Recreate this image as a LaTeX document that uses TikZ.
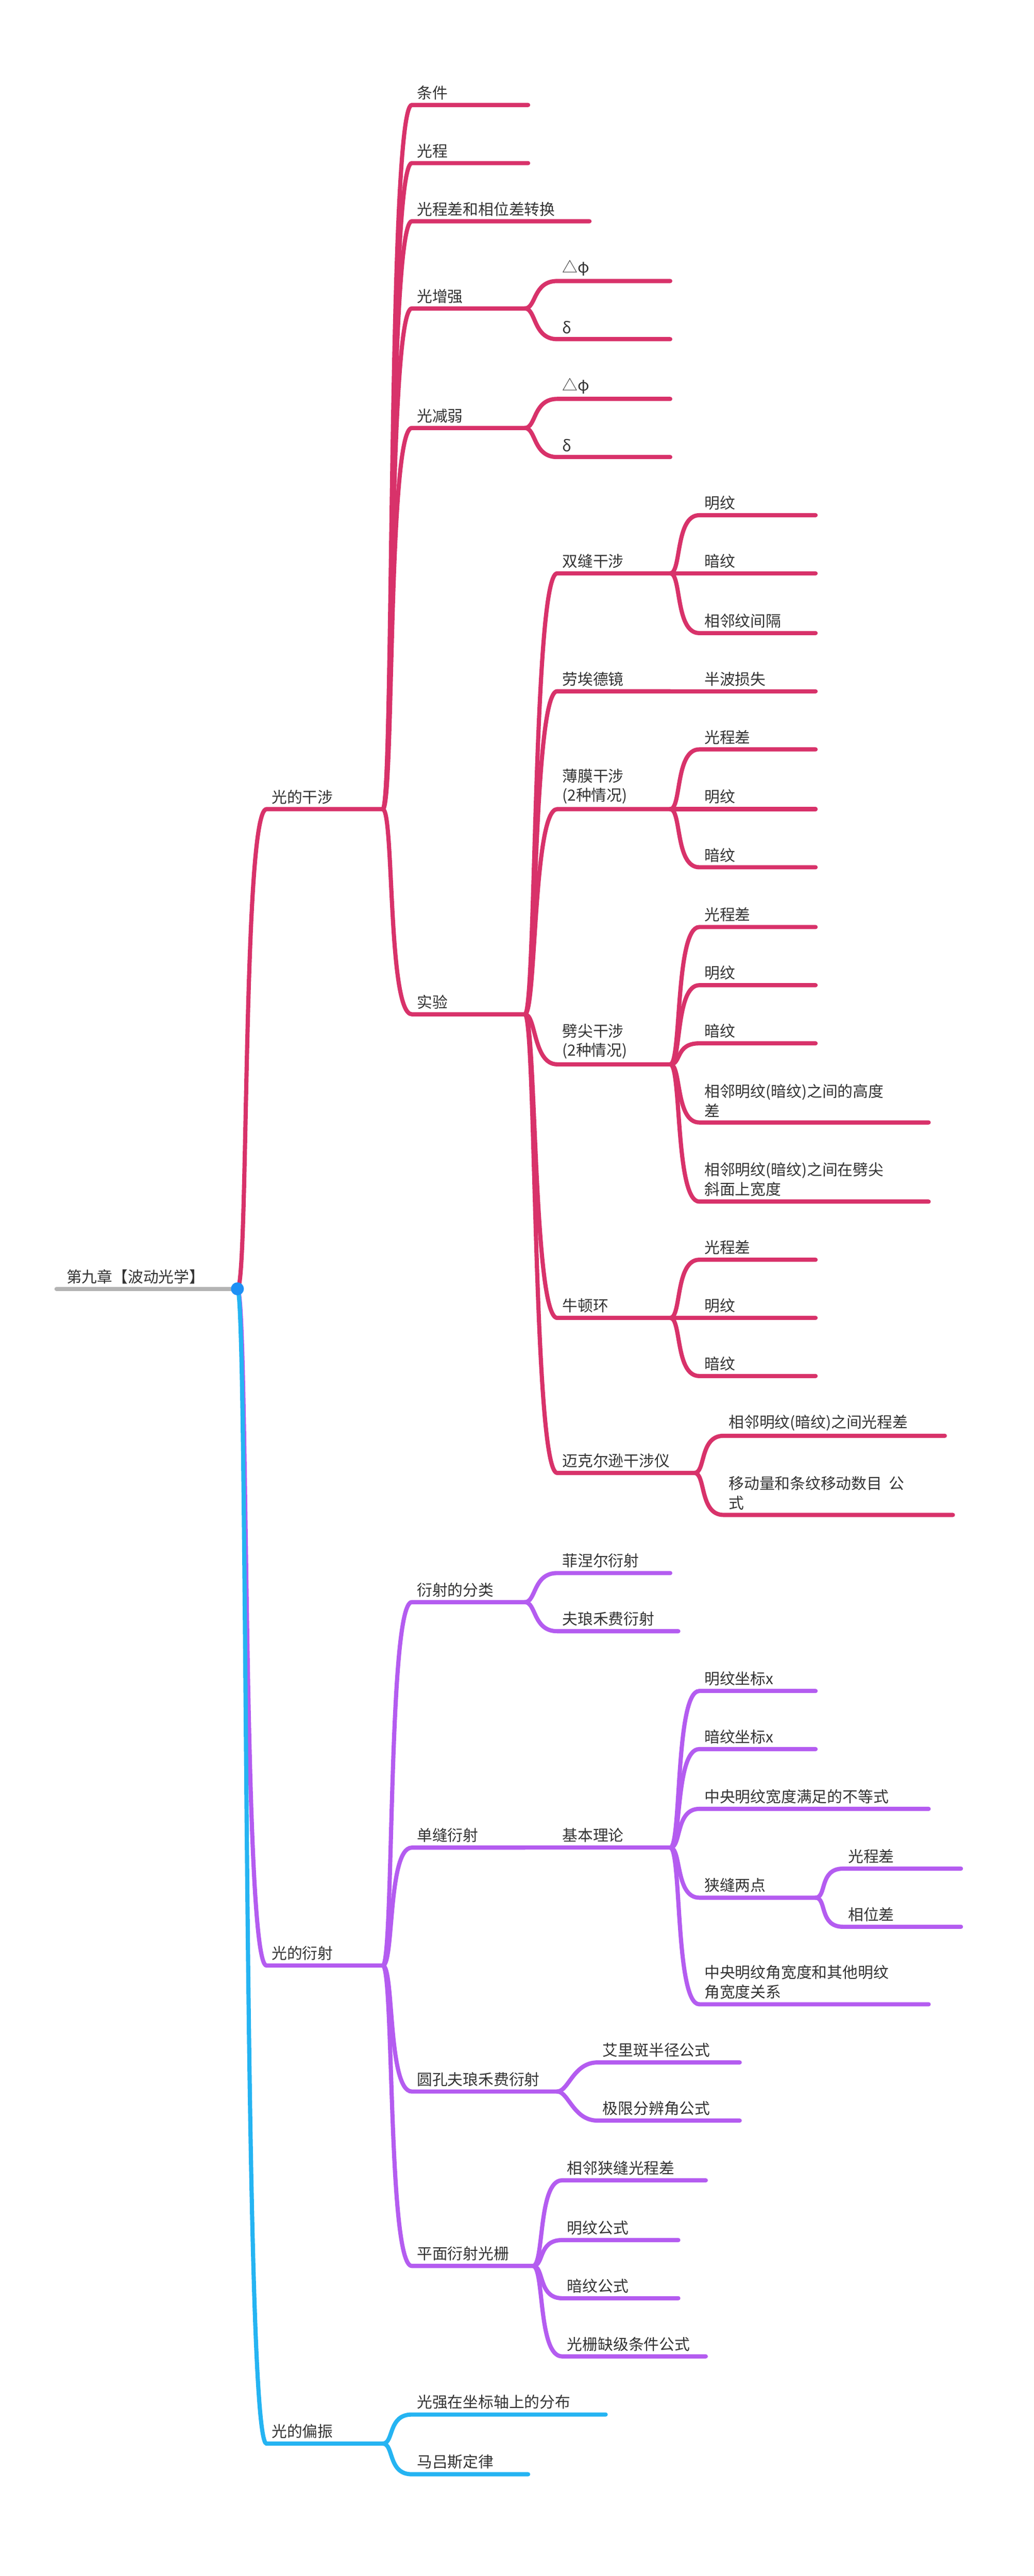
\documentclass[tikz,border=0pt]{standalone}
\usepackage{fontspec}
\setmainfont{Noto Sans CJK SC}
\begin{document}
\definecolor{cr}{HTML}{D8326A}
\definecolor{pu}{HTML}{B45CF0}
\definecolor{bl}{HTML}{25B4F2}
\definecolor{gr}{HTML}{B4B4B4}
\definecolor{tx}{HTML}{333333}
\newcommand\mm[7]{%
\coordinate (#1-s) at (#3,#5); \coordinate (#1-e) at (#4,#5);
\draw[#6,br] (#2-e) .. controls +(7,0) and +(-15,0) .. (#1-s) -- (#1-e);
\node[lbl,anchor=south west] (#1) at (#1-s) {#7};}
\begin{tikzpicture}[x=1pt,y=-1pt,
 br/.style={line width=2.6pt,line cap=round},
 lbl/.style={font=\fontsize{9.5}{12}\selectfont,text=tx,inner xsep=3pt,inner ysep=3pt,align=left}]
\useasboundingbox[fill=white] (0,0) rectangle (640,1595);
\coordinate (root-s) at (35,798); \coordinate (root-e) at (147,798);
\draw[gr,br] (root-s) -- (root-e);
\node[lbl,anchor=south west] (root) at (38,798) {第九章【波动光学】};
% interference
\mm{A}{root}{165}{237}{501}{cr}{光的干涉}
\mm{A1}{A}{255}{327}{65}{cr}{条件}
\mm{A2}{A}{255}{327}{101}{cr}{光程}
\mm{A3}{A}{255}{365}{137}{cr}{光程差和相位差转换}
\mm{A4}{A}{255}{325}{191}{cr}{光增强}
\mm{A41}{A4}{345}{415}{174}{cr}{△φ}
\mm{A42}{A4}{345}{415}{210}{cr}{δ}
\mm{A5}{A}{255}{325}{265}{cr}{光减弱}
\mm{A51}{A5}{345}{415}{247}{cr}{△φ}
\mm{A52}{A5}{345}{415}{283}{cr}{δ}
\mm{A6}{A}{255}{325}{628}{cr}{实验}
\mm{B1}{A6}{345}{415}{355}{cr}{双缝干涉}
\mm{B11}{B1}{433}{505}{319}{cr}{明纹}
\mm{B12}{B1}{433}{505}{355}{cr}{暗纹}
\mm{B13}{B1}{433}{505}{392}{cr}{相邻纹间隔}
\mm{B2}{A6}{345}{415}{428}{cr}{劳埃德镜}
\mm{B21}{B2}{433}{505}{428}{cr}{半波损失}
\mm{B3}{A6}{345}{415}{501}{cr}{薄膜干涉\\(2种情况)}
\mm{B31}{B3}{433}{505}{464}{cr}{光程差}
\mm{B32}{B3}{433}{505}{501}{cr}{明纹}
\mm{B33}{B3}{433}{505}{537}{cr}{暗纹}
\mm{B4}{A6}{345}{415}{659}{cr}{劈尖干涉\\(2种情况)}
\mm{B41}{B4}{433}{505}{574}{cr}{光程差}
\mm{B42}{B4}{433}{505}{610}{cr}{明纹}
\mm{B43}{B4}{433}{505}{646}{cr}{暗纹}
\mm{B44}{B4}{433}{575}{695}{cr}{相邻明纹(暗纹)之间的高度\\差}
\mm{B45}{B4}{433}{575}{744}{cr}{相邻明纹(暗纹)之间在劈尖\\斜面上宽度}
\mm{B5}{A6}{345}{415}{816}{cr}{牛顿环}
\mm{B51}{B5}{433}{505}{780}{cr}{光程差}
\mm{B52}{B5}{433}{505}{816}{cr}{明纹}
\mm{B53}{B5}{433}{505}{852}{cr}{暗纹}
\mm{B6}{A6}{345}{430}{912}{cr}{迈克尔逊干涉仪}
\mm{B61}{B6}{448}{585}{889}{cr}{相邻明纹(暗纹)之间光程差}
\mm{B62}{B6}{448}{590}{938}{cr}{移动量和条纹移动数目\ \ 公\\式}
% diffraction
\mm{C}{root}{165}{237}{1217}{pu}{光的衍射}
\mm{C1}{C}{255}{325}{992}{pu}{衍射的分类}
\mm{C11}{C1}{345}{415}{974}{pu}{菲涅尔衍射}
\mm{C12}{C1}{345}{420}{1010}{pu}{夫琅禾费衍射}
\mm{C2}{C}{255}{325}{1144}{pu}{单缝衍射}
\mm{C21}{C2}{345}{415}{1144}{pu}{基本理论}
\mm{D1}{C21}{433}{505}{1047}{pu}{明纹坐标x}
\mm{D2}{C21}{433}{505}{1083}{pu}{暗纹坐标x}
\mm{D3}{C21}{433}{575}{1120}{pu}{中央明纹宽度满足的不等式}
\mm{D4}{C21}{433}{505}{1175}{pu}{狭缝两点}
\mm{D41}{D4}{522}{595}{1157}{pu}{光程差}
\mm{D42}{D4}{522}{595}{1193}{pu}{相位差}
\mm{D5}{C21}{433}{575}{1241}{pu}{中央明纹角宽度和其他明纹\\角宽度关系}
\mm{C3}{C}{255}{345}{1295}{pu}{圆孔夫琅禾费衍射}
\mm{C31}{C3}{370}{458}{1277}{pu}{艾里斑半径公式}
\mm{C32}{C3}{370}{458}{1313}{pu}{极限分辨角公式}
\mm{C4}{C}{255}{330}{1403}{pu}{平面衍射光栅}
\mm{C41}{C4}{348}{437}{1350}{pu}{相邻狭缝光程差}
\mm{C42}{C4}{348}{420}{1387}{pu}{明纹公式}
\mm{C43}{C4}{348}{420}{1423}{pu}{暗纹公式}
\mm{C44}{C4}{348}{437}{1459}{pu}{光栅缺级条件公式}
% polarization
\mm{E}{root}{165}{237}{1513}{bl}{光的偏振}
\mm{E1}{E}{255}{375}{1495}{bl}{光强在坐标轴上的分布}
\mm{E2}{E}{255}{327}{1532}{bl}{马吕斯定律}
\fill[bl!80!blue] (root-e) circle (4);
\end{tikzpicture}
\end{document}
